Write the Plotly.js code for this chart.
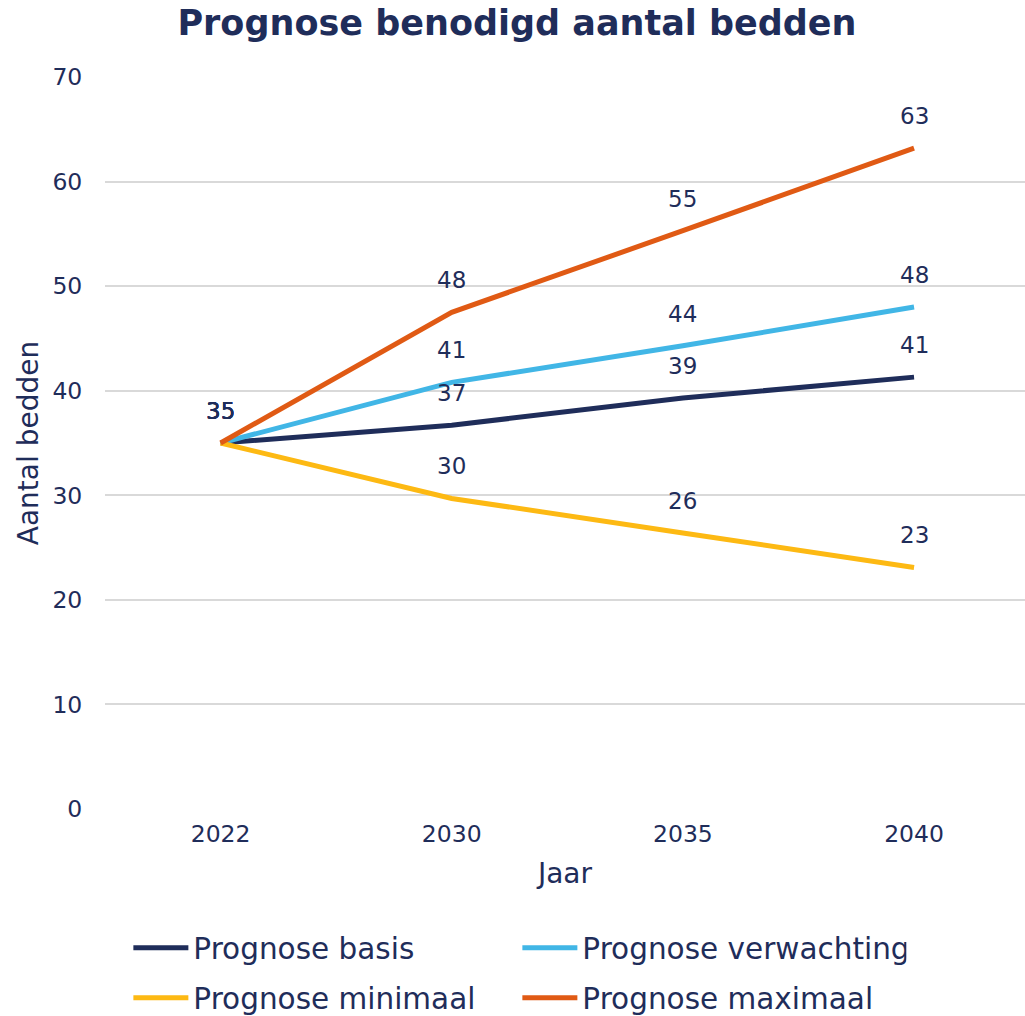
<!DOCTYPE html>
<html>
<head>
<meta charset="utf-8">
<script src="https://cdn.plot.ly/plotly-3.0.1.min.js"></script>
<style>html,body{margin:0;padding:0;background:#fff;}#chart{width:1025px;height:1016px;}</style>
</head>
<body>
<div id="chart"></div>
<script>
const years = ['2022', '2030', '2035', '2040'];
const basis = [35, 36.7, 39.3, 41.3];
const verwachting = [35, 40.8, 44.3, 48.0];
const minimaal = [35, 29.7, 26.4, 23.1];
const maximaal = [35, 47.5, 55.3, 63.2];
const seriesNames = ['Prognose basis', 'Prognose verwachting', 'Prognose minimaal', 'Prognose maximaal'];
const yTicks = [0, 10, 20, 30, 40, 50, 60, 70];

const navy = '#1f2d5a';
const colors = ['#1f2d5a', '#41b6e6', '#fdb913', '#e05a14'];
const allSeries = [basis, verwachting, minimaal, maximaal];
const legends = ['legend', 'legend', 'legend2', 'legend2'];
const FONT = 'DejaVu Sans, Verdana, sans-serif';

const traces = allSeries.map((vals, i) => ({
  type: 'scatter',
  mode: 'lines',
  x: years,
  y: vals,
  name: seriesNames[i],
  legend: legends[i],
  line: {color: colors[i], width: 5},
  hoverinfo: 'x+y+name'
}));

const annotations = [];
allSeries.forEach((vals) => {
  vals.forEach((v, j) => {
    annotations.push({
      x: j, y: v, xref: 'x', yref: 'y',
      text: String(Math.round(v)),
      showarrow: false, yshift: 32, yanchor: 'middle',
      font: {family: FONT, size: 23, color: navy}
    });
  });
});

function legendOpts(y) {
  return {
    orientation: 'h', xanchor: 'left', yanchor: 'middle',
    x: 0.0254, y: y,
    font: {family: FONT, size: 29.5, color: navy},
    entrywidth: 319, entrywidthmode: 'pixels',
    itemwidth: 55,
    bgcolor: 'rgba(0,0,0,0)'
  };
}

const layout = {
  width: 1025, height: 1016,
  margin: {l: 105, r: 0, t: 77, b: 207, autoexpand: false},
  paper_bgcolor: '#fff', plot_bgcolor: '#fff',
  font: {family: FONT, color: navy},
  title: {
    text: '<b>Prognose benodigd aantal bedden</b>',
    font: {family: FONT, size: 35, color: navy},
    x: 517 / 1025, xref: 'container', xanchor: 'center',
    y: 1 - 23 / 1016, yref: 'container', yanchor: 'middle'
  },
  xaxis: {
    type: 'category', range: [-0.5, 3.48],
    showgrid: false, zeroline: false, showline: false,
    tickfont: {family: FONT, size: 23.5, color: navy},
    ticks: 'outside', ticklen: 4, tickcolor: 'rgba(0,0,0,0)',
    title: {text: 'Jaar', font: {family: FONT, size: 28, color: navy}, standoff: 16}
  },
  yaxis: {
    range: [0, 70], tickvals: yTicks, ticktext: yTicks.map(String),
    showgrid: true, gridcolor: '#d9d9d9', gridwidth: 2,
    zeroline: false, showline: false,
    tickfont: {family: FONT, size: 23.5, color: navy},
    ticks: 'outside', ticklen: 17, tickcolor: 'rgba(0,0,0,0)',
    title: {text: 'Aantal bedden', font: {family: FONT, size: 28, color: navy}, standoff: 5}
  },
  legend: legendOpts((809 - 948) / 732),
  legend2: legendOpts((809 - 998) / 732),
  annotations: annotations,
  showlegend: true
};

Plotly.newPlot('chart', traces, layout, {displayModeBar: false, responsive: false});
</script>
</body>
</html>
